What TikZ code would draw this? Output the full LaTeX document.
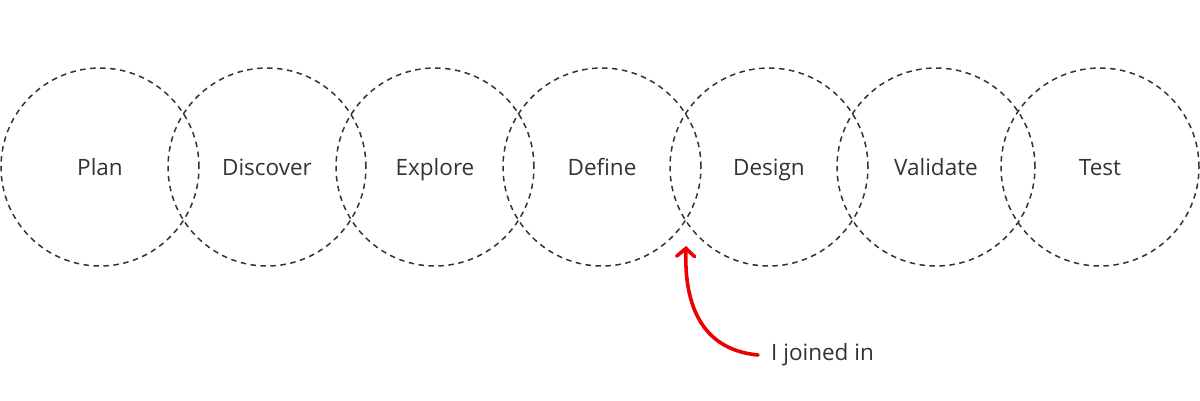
\documentclass[tikz,border=0pt]{standalone}
\usepackage{fontspec}
\setmainfont{Open Sans}
\usetikzlibrary{arrows.meta,positioning}
\definecolor{ink}{HTML}{333333}
\definecolor{joinred}{HTML}{EE0000}

\begin{document}
\begin{tikzpicture}[x=1pt,y=-1pt,
  phase/.style={circle,draw=ink,dash pattern=on 5.5pt off 4.5pt,line width=1.5pt,minimum size=198pt,inner sep=0pt,text=ink,text height=17.5pt,text depth=0pt,font=\fontsize{22.5}{27}\selectfont},
  note/.style={text=ink,font=\fontsize{22.5}{27}\selectfont,inner sep=0pt,anchor=west}]
  \useasboundingbox (0,0) rectangle (1200,400);
  \node[phase] (plan) at (100,167) {Plan};
  \node[phase] (discover) at (267,167) {Discover};
  \node[phase] (explore) at (435,167) {Explore};
  \node[phase] (define) at (602,167) {Define};
  \node[phase] (design) at (769,167) {Design};
  \node[phase] (validate) at (936,167) {Validate};
  \node[phase] (test) at (1100,167) {Test};

  \node[note] (joined) at (771,355) {I joined in};
  \coordinate (join) at (686,246);
  \draw[joinred,line width=3.6pt,line cap=round,-{Straight Barb[length=8pt,width=18pt,line cap=round]}]
    ([xshift=-13pt]joined.west) .. controls (705,350) and (684,310) .. (join);
\end{tikzpicture}
\end{document}
